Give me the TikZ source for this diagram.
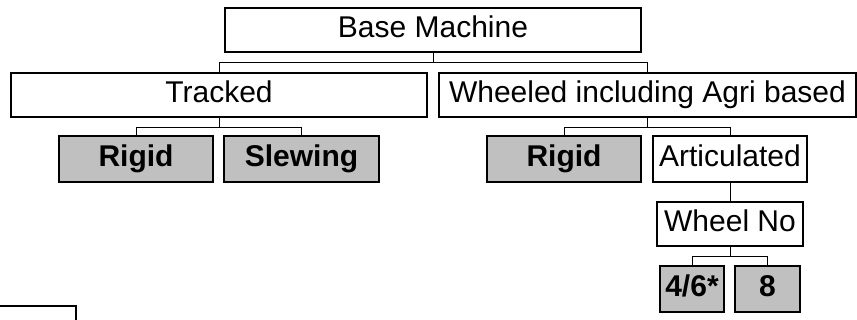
\documentclass[tikz,border=0pt]{standalone}
\usepackage{fontspec}
\setmainfont{Liberation Sans}
\usepackage{tikz}
\usetikzlibrary{arrows,positioning}
\definecolor{leafgrey}{HTML}{C0C0C0}

\begin{document}
\begin{tikzpicture}[x=1pt,y=-1pt,
    box/.style={draw,line width=1.5pt,inner sep=0pt,minimum height=44pt,text height=21.5pt,text depth=5.5pt,font=\fontsize{30}{36}\selectfont},
    leaf/.style={box,fill=leafgrey,minimum height=46pt,font=\fontsize{30}{36}\selectfont\bfseries},
    link/.style={line width=1pt}]
    \useasboundingbox (0,0) rectangle (857,320);
    \clip (0,0) rectangle (857,320);

    \node[box,minimum width=416pt] (base) at (433,30) {Base Machine};
    \node[box,minimum width=416pt] (tracked) at (219,95) {Tracked};
    \node[box,minimum width=417pt] (wheeled) at (647.5,95) {Wheeled including Agri based};
    \node[leaf,minimum width=154pt] (trigid) at (136,159) {Rigid};
    \node[leaf,minimum width=155pt] (slewing) at (301.5,159) {Slewing};
    \node[leaf,minimum width=154pt] (wrigid) at (564,159) {Rigid};
    \node[box,minimum width=154pt,minimum height=46pt] (artic) at (730,159) {Articulated};
    \node[box,minimum width=146pt] (wheelno) at (730,224) {Wheel No};
    \node[leaf,minimum width=64pt] (four) at (692,289) {4/6*};
    \node[leaf,minimum width=65pt] (eight) at (767.5,289) {8};
    \node[box,minimum width=120pt,minimum height=48pt] (key) at (16,330) {};

    \draw[link] (base.south) -- ++(0,10) -| (tracked.north);
    \draw[link] (base.south) -- ++(0,10) -| (wheeled.north);
    \draw[link] (tracked.south) -- ++(0,10) -| (trigid.north);
    \draw[link] (tracked.south) -- ++(0,10) -| (slewing.north);
    \draw[link] (wheeled.south) -- ++(0,10) -| (wrigid.north);
    \draw[link] (wheeled.south) -- ++(0,10) -| (artic.north);
    \draw[link] (artic.south) -- (wheelno.north);
    \draw[link] (wheelno.south) -- ++(0,10) -| (four.north);
    \draw[link] (wheelno.south) -- ++(0,10) -| (eight.north);
\end{tikzpicture}
\end{document}
